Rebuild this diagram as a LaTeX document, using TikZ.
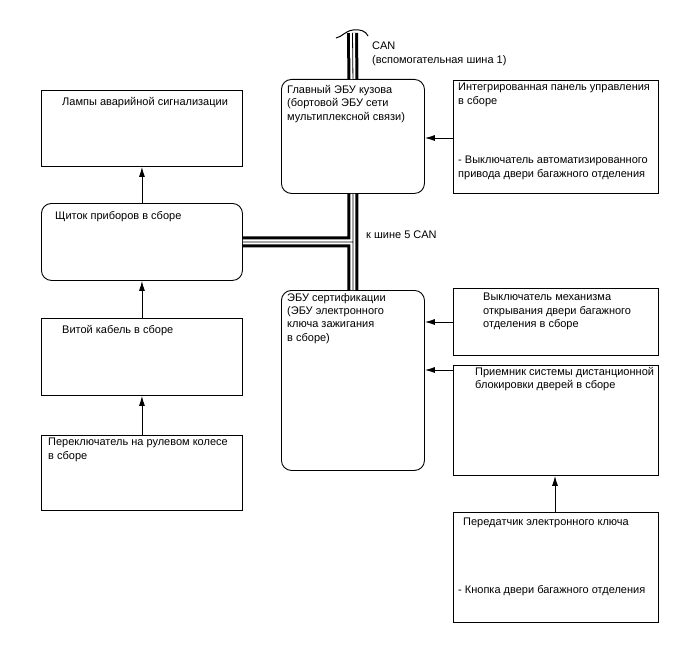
\documentclass[tikz,border=0pt]{standalone}
\usepackage{fontspec}
\setmainfont{Liberation Sans}
\usetikzlibrary{arrows.meta}
\begin{document}
\begin{tikzpicture}[x=1pt,y=-1pt,
 box/.style={draw,line width=0.9pt,anchor=north west,inner sep=0pt},
 rbox/.style={box,rounded corners=10pt},
 lbl/.style={anchor=north west,inner sep=0pt,align=left,font=\fontsize{11pt}{13.4pt}\selectfont},
 arr/.style={line width=0.9pt,-{Latex[length=10pt,width=6pt]}},
 bus/.style={line width=3pt,double=white,double distance=5pt},
 buscore/.style={line width=0.8pt}]
\useasboundingbox[fill=white] (0,0) rectangle (688,658);
% left column
\node[box,minimum width=201pt,minimum height=76pt] (lamps) at (41,90) {};
\node[rbox,minimum width=201pt,minimum height=77pt] (cluster) at (41,203) {};
\node[box,minimum width=201pt,minimum height=77pt] (cable) at (41,318) {};
\node[box,minimum width=201pt,minimum height=75pt] (steer) at (41,435) {};
% middle column
\node[rbox,minimum width=143pt,minimum height=114pt] (mecu) at (281,79) {};
\node[rbox,minimum width=143pt,minimum height=180pt] (cert) at (281,290) {};
% right column
\node[box,minimum width=205pt,minimum height=113pt] (panel) at (453,80) {};
\node[box,minimum width=205pt,minimum height=67pt] (switch) at (453,288) {};
\node[box,minimum width=205pt,minimum height=110pt] (recv) at (453,365) {};
\node[box,minimum width=205pt,minimum height=110pt] (trans) at (453,512) {};
% texts
\node[lbl] (tlamps) at (62,97) {Лампы аварийной сигнализации};
\node[lbl] (tcluster) at (55,211) {Щиток приборов в сборе};
\node[lbl] (tcable) at (62,325) {Витой кабель в сборе};
\node[lbl] (tsteer) at (48,438) {Переключатель на рулевом колесе\\в сборе};
\node[lbl] (tmecu) at (287,85) {Главный ЭБУ кузова\\(бортовой ЭБУ сети\\мультиплексной связи)};
\node[lbl] (tcert) at (287,293) {ЭБУ сертификации\\(ЭБУ электронного\\ключа зажигания\\в сборе)};
\node[lbl] (tpanel) at (458,83) {Интегрированная панель управления\\в сборе};
\node[lbl] (tpanel2) at (458,156) {- Выключатель автоматизированного\\привода двери багажного отделения};
\node[lbl] (tswitch) at (483,293) {Выключатель механизма\\открывания двери багажного\\отделения в сборе};
\node[lbl] (trecv) at (475,367) {Приемник системы дистанционной\\блокировки дверей в сборе};
\node[lbl] (ttrans) at (463,518) {Передатчик электронного ключа};
\node[lbl] (ttrans2) at (458,585) {- Кнопка двери багажного отделения};
\node[lbl] (tcan) at (372,42) {CAN\\(вспомогательная шина 1)};
\node[lbl] (tcan5) at (366,231) {к шине 5 CAN};
% arrows
\draw[arr] (cluster.north) -- (lamps.south);
\draw[arr] (cable.north) -- (cluster.south);
\draw[arr] (steer.north) -- (cable.south);
\draw[arr] (panel.west |- 0,138) -- (mecu.east |- 0,138);
\draw[arr] (switch.west |- 0,322) -- (cert.east |- 0,322);
\draw[arr] (recv.west |- 0,370) -- (cert.east |- 0,370);
\draw[arr] (trans.north -| 555,0) -- (recv.south -| 555,0);
% CAN bus
\coordinate (bustop) at (352.5,33);
\draw[bus] (bustop) -- (mecu.north) (mecu.south) -- (cert.north) (cluster.east) -- (cluster.east -| cert.north);
\draw[buscore] (bustop) -- (mecu.north) (mecu.south) -- (cert.north) (cluster.east) -- (cluster.east -| cert.north);
\draw[line width=1pt] (336,38) .. controls (342,37) and (345,31) .. (353,30) .. controls (360,29) and (366,31) .. (368,36);
\end{tikzpicture}
\end{document}
